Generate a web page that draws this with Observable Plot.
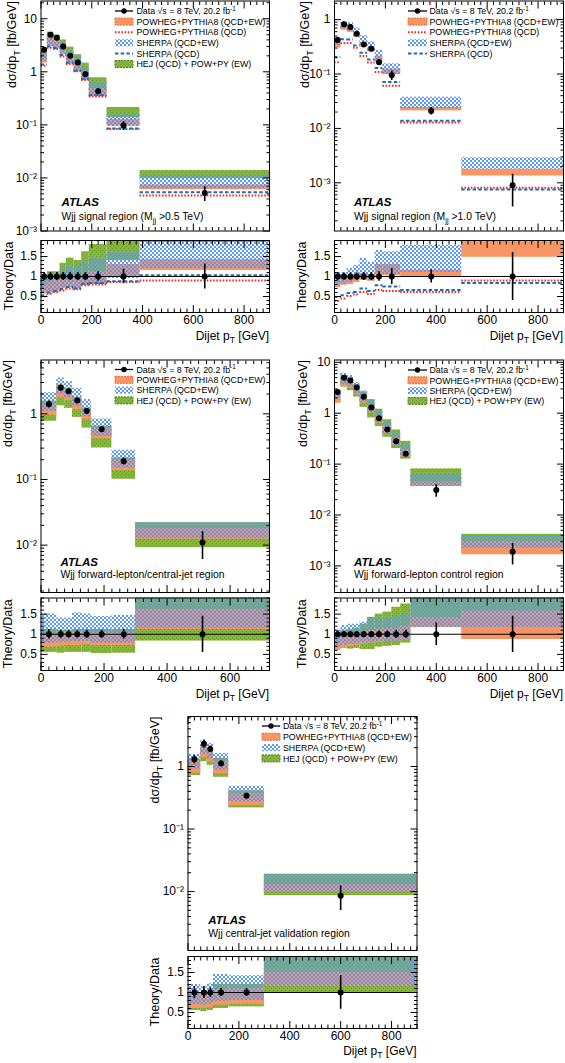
<!DOCTYPE html>
<html><head><meta charset="utf-8">
<script src="https://cdn.jsdelivr.net/npm/d3@7"></script>
<script src="https://cdn.jsdelivr.net/npm/@observablehq/plot@0.6"></script>
<style>
body{margin:0;background:#fff;}
#root{position:relative;width:565px;height:1063px;overflow:hidden;background:#fff;}
</style></head><body>
<svg width="1" height="1" style="position:absolute;left:0;top:0">
 <defs>
  <pattern id="shePat" x="0" y="0" width="4" height="4" patternUnits="userSpaceOnUse">
   <rect x="0" y="0" width="2" height="2" fill="#5a96f6"/>
   <rect x="2" y="2" width="2" height="2" fill="#5a96f6"/>
  </pattern>
  <pattern id="hejPat" x="0" y="0" width="4" height="4" patternUnits="userSpaceOnUse">
   <rect x="0" y="0" width="4" height="4" fill="#86b53c"/>
   <rect x="0" y="0" width="1" height="1" fill="#6a9a2a"/>
   <rect x="2" y="2" width="1" height="1" fill="#6a9a2a"/>
  </pattern>
 </defs>
</svg>
<div id="root"></div>
<script>
// ---------------- DATA (ratios are Theory/Data) ----------------
// Panel 1: Wjj signal region (Mjj > 0.5 TeV)
const p1Edges  = [0, 25, 50, 75, 100, 130, 160, 190, 260, 390, 900];
const p1Data   = [2.6, 5.0, 4.4, 3.0, 2.0, 1.5, 0.9, 0.43, 0.097, 0.0052];
const p1Err    = [0.1, 0.1, 0.1, 0.1, 0.1, 0.1, 0.1, 0.12, 0.18, 0.31];
const p1PowLo  = [0.56, 0.6, 0.63, 0.7, 0.72, 0.7, 0.78, 0.8, 0.98, 1.15];
const p1PowHi  = [0.82, 0.88, 0.9, 0.98, 1.0, 1.0, 1.08, 1.12, 1.3, 1.42];
const p1SheLo  = [0.6, 0.62, 0.65, 0.72, 0.74, 0.7, 0.78, 0.8, 0.95, 1.2];
const p1SheHi  = [0.95, 1.05, 1.08, 1.18, 1.25, 1.28, 1.35, 1.45, 1.6, 2.15];
const p1HejLo  = [0.65, 0.72, 0.75, 0.85, 0.9, 0.85, 0.95, 1.0, 1.4, 1.85];
const p1HejHi  = [0.95, 1.12, 1.12, 1.33, 1.46, 1.4, 1.62, 1.8, 2.2, 2.65];
const p1PowQcd = [0.5, 0.57, 0.61, 0.65, 0.7, 0.68, 0.78, 0.8, 0.86, 0.9];
const p1SheQcd = [0.53, 0.6, 0.64, 0.69, 0.74, 0.7, 0.82, 0.84, 0.88, 1.03];

// Panel 2: Wjj signal region (Mjj > 1.0 TeV)
const p2Edges  = [0, 25, 50, 75, 100, 130, 160, 190, 260, 500, 900];
const p2Data   = [0.42, 0.82, 0.73, 0.55, 0.35, 0.29, 0.165, 0.095, 0.021, 0.0009];
const p2Err    = [0.1, 0.09, 0.09, 0.09, 0.1, 0.1, 0.12, 0.2, 0.16, 0.6];
const p2PowLo  = [0.72, 0.78, 0.8, 0.85, 0.9, 0.88, 1.0, 1.02, 1.0, 1.48];
const p2PowHi  = [0.92, 0.97, 1.0, 1.05, 1.08, 1.05, 1.3, 1.3, 1.16, 1.98];
const p2SheLo  = [0.78, 0.82, 0.85, 0.9, 0.95, 0.9, 1.05, 1.05, 1.1, 1.98];
const p2SheHi  = [1.1, 1.1, 1.2, 1.28, 1.45, 1.35, 1.65, 1.62, 1.78, 3.2];
const p2PowQcd = [0.39, 0.45, 0.51, 0.55, 0.61, 0.56, 0.66, 0.64, 0.61, 0.9];
const p2SheQcd = [0.49, 0.53, 0.59, 0.61, 0.7, 0.64, 0.78, 0.75, 0.66, 0.84];

// Panel 3: Wjj forward-lepton/central-jet region
const p3Edges  = [0, 50, 75, 100, 130, 160, 225, 300, 725];
const p3Data   = [1.4, 2.5, 2.2, 1.6, 1.1, 0.58, 0.19, 0.011];
const p3Err    = [0.12, 0.1, 0.09, 0.09, 0.1, 0.1, 0.12, 0.45];
const p3PowLo  = [0.68, 0.7, 0.72, 0.72, 0.74, 0.72, 0.72, 1.12];
const p3PowHi  = [1.0, 1.02, 1.05, 1.05, 1.05, 1.05, 1.05, 1.62];
const p3SheLo  = [0.78, 0.8, 0.8, 0.82, 0.82, 0.78, 0.78, 1.15];
const p3SheHi  = [1.5, 1.4, 1.4, 1.53, 1.5, 1.44, 1.47, 2.0];
const p3HejLo  = [0.55, 0.53, 0.55, 0.55, 0.55, 0.52, 0.53, 0.83];
const p3HejHi  = [1.12, 1.1, 1.1, 1.12, 1.12, 1.12, 1.12, 2.0];

// Panel 4: Wjj forward-lepton control region
const p4Edges  = [0, 25, 50, 75, 100, 130, 160, 190, 225, 260, 300, 500, 900];
const p4Data   = [2.6, 5.0, 4.4, 3.2, 2.1, 1.3, 0.8, 0.48, 0.28, 0.16, 0.031, 0.0019];
const p4Err    = [0.08, 0.07, 0.07, 0.07, 0.07, 0.07, 0.08, 0.08, 0.1, 0.1, 0.28, 0.45];
const p4PowLo  = [0.6, 0.66, 0.7, 0.72, 0.75, 0.78, 0.8, 0.82, 0.82, 0.85, 1.17, 0.87];
const p4PowHi  = [0.88, 0.95, 1.0, 1.02, 1.05, 1.1, 1.12, 1.15, 1.15, 1.2, 1.42, 1.58];
const p4SheLo  = [0.7, 0.72, 0.75, 0.75, 0.78, 0.8, 0.82, 0.82, 0.8, 0.85, 1.17, 1.17];
const p4SheHi  = [1.1, 1.22, 1.25, 1.25, 1.3, 1.4, 1.4, 1.42, 1.45, 1.5, 2.1, 2.0];
const p4HejLo  = [0.62, 0.65, 0.63, 0.65, 0.62, 0.62, 0.68, 0.7, 0.72, 0.78, 1.17, 1.1];
const p4HejHi  = [1.0, 1.1, 1.12, 1.15, 1.25, 1.42, 1.5, 1.55, 1.67, 1.75, 2.6, 2.2];

// Panel 5: Wjj central-jet validation region
const p5Edges  = [0, 50, 75, 100, 160, 300, 900];
const p5Data   = [1.3, 2.3, 1.9, 1.12, 0.34, 0.0086];
const p5Err    = [0.15, 0.15, 0.12, 0.1, 0.1, 0.42];
const p5PowLo  = [0.6, 0.6, 0.62, 0.68, 0.7, 1.15];
const p5PowHi  = [0.95, 0.95, 0.98, 1.08, 1.1, 1.5];
const p5SheLo  = [0.7, 0.68, 0.7, 0.78, 0.8, 1.15];
const p5SheHi  = [1.2, 1.14, 1.22, 1.45, 1.42, 2.2];
const p5HejLo  = [0.55, 0.52, 0.55, 0.6, 0.64, 1.0];
const p5HejHi  = [1.0, 0.98, 1.0, 1.2, 1.2, 2.2];

// Tick labels
const logTickValues = [1e-3, 1e-2, 1e-1, 1, 10];
const logTickLabels = ["10⁻³", "10⁻²", "10⁻¹", "1", "10"];
const ratioTickValues = [0.5, 1, 1.5];
const ratioTickLabels = ["0.5", "1", "1.5"];
const xTickValuesWide = [0, 200, 400, 600, 800];
const xTickValuesNarrow = [0, 200, 400, 600];

// Legend / text labels
const legendLabels = {
  data: [["Data √s = 8 TeV, 20.2 fb"], ["-1", "sup"]],
  pow: [["POWHEG+PYTHIA8 (QCD+EW)"]],
  powqcd: [["POWHEG+PYTHIA8 (QCD)"]],
  she: [["SHERPA (QCD+EW)"]],
  sheqcd: [["SHERPA (QCD)"]],
  hej: [["HEJ (QCD) + POW+PY (EW)"]]
};
const regionLabels = [
  [["Wjj signal region (M"], ["jj", "sub"], [" >0.5 TeV)"]],
  [["Wjj signal region (M"], ["jj", "sub"], [" >1.0 TeV)"]],
  [["Wjj forward-lepton/central-jet region"]],
  [["Wjj forward-lepton control region"]],
  [["Wjj central-jet validation region"]]
];

// ---------------- LAYOUT ----------------
const FONT = '"Liberation Sans", Arial, Helvetica, sans-serif';
const panels = [
  {edges: p1Edges, data: p1Data, err: p1Err, powLo: p1PowLo, powHi: p1PowHi, sheLo: p1SheLo, sheHi: p1SheHi,
   hejLo: p1HejLo, hejHi: p1HejHi, powQcd: p1PowQcd, sheQcd: p1SheQcd,
   xDomain: [0, 900], xMinorStep: 25, xLabels: xTickValuesWide, yDomain: [1e-3, 21.6],
   frame: {x0: 40.5, x1: 269, m0: 0.5, m1: 230.5, r0: 240, r1: 312},
   legend: {x: 115, y0: 11, dy: 10.6, w: 18, tx: 136.5, keys: ["data", "pow", "powqcd", "she", "sheqcd", "hej"]},
   atlas: {x: 61.5, y: 206, ry: 220}, yTitleX: 15.5, rTitleX: 12.5, xTitleY: 339.5},
  {edges: p2Edges, data: p2Data, err: p2Err, powLo: p2PowLo, powHi: p2PowHi, sheLo: p2SheLo, sheHi: p2SheHi,
   powQcd: p2PowQcd, sheQcd: p2SheQcd,
   xDomain: [0, 900], xMinorStep: 25, xLabels: xTickValuesWide, yDomain: [1.3e-4, 2.2],
   frame: {x0: 334, x1: 563, m0: 0.5, m1: 230.5, r0: 240, r1: 312},
   legend: {x: 408, y0: 11, dy: 10.6, w: 19, tx: 429.5, keys: ["data", "pow", "powqcd", "she", "sheqcd"]},
   atlas: {x: 354, y: 206, ry: 220}, yTitleX: 309, rTitleX: 305.7, xTitleY: 339.5},
  {edges: p3Edges, data: p3Data, err: p3Err, powLo: p3PowLo, powHi: p3PowHi, sheLo: p3SheLo, sheHi: p3SheHi,
   hejLo: p3HejLo, hejHi: p3HejHi,
   xDomain: [0, 725], xMinorStep: 25, xLabels: xTickValuesNarrow, yDomain: [1.9e-3, 6.6],
   frame: {x0: 40.5, x1: 269, m0: 359.5, m1: 592, r0: 597.5, r1: 670},
   legend: {x: 115, y0: 369.5, dy: 10.3, w: 18, tx: 136.5, keys: ["data", "pow", "she", "hej"]},
   atlas: {x: 60.5, y: 565.5, ry: 577.5}, yTitleX: 12.3, rTitleX: 12.3, xTitleY: 697.5},
  {edges: p4Edges, data: p4Data, err: p4Err, powLo: p4PowLo, powHi: p4PowHi, sheLo: p4SheLo, sheHi: p4SheHi,
   hejLo: p4HejLo, hejHi: p4HejHi,
   xDomain: [0, 900], xMinorStep: 25, xLabels: xTickValuesWide, yDomain: [3.0e-4, 11.1],
   frame: {x0: 334, x1: 563, m0: 359.5, m1: 592, r0: 597.5, r1: 670},
   legend: {x: 408, y0: 370, dy: 10.3, w: 19, tx: 429.5, keys: ["data", "pow", "she", "hej"]},
   atlas: {x: 354, y: 565.5, ry: 577.5}, yTitleX: 307.3, rTitleX: 305.7, xTitleY: 697.5},
  {edges: p5Edges, data: p5Data, err: p5Err, powLo: p5PowLo, powHi: p5PowHi, sheLo: p5SheLo, sheHi: p5SheHi,
   hejLo: p5HejLo, hejHi: p5HejHi,
   xDomain: [0, 900], xMinorStep: 25, xLabels: xTickValuesWide, yDomain: [1.14e-3, 6.3],
   frame: {x0: 187.5, x1: 416.5, m0: 716, m1: 950, r0: 956, r1: 1028},
   legend: {x: 262, y0: 726, dy: 10.8, w: 18, tx: 283, keys: ["data", "pow", "she", "hej"]},
   atlas: {x: 208.3, y: 924, ry: 936.7}, yTitleX: 159, rTitleX: 159, xTitleY: 1054.5}
];

const COL = {pow: "#f79664", powEdge: "#ec6a38", powQcd: "#ff2424", sheQcd: "#1c6cb2", hejEdge: "#4d7a1c"};
const root = document.getElementById("root");

function makeBins(p) {
  return p.data.map((v, i) => ({
    x1: p.edges[i], x2: p.edges[i + 1], xc: (p.edges[i] + p.edges[i + 1]) / 2, v, e: p.err[i],
    powLo: p.powLo[i], powHi: p.powHi[i], sheLo: p.sheLo[i], sheHi: p.sheHi[i],
    hejLo: p.hejLo ? p.hejLo[i] : null, hejHi: p.hejHi ? p.hejHi[i] : null,
    powQcd: p.powQcd ? p.powQcd[i] : null, sheQcd: p.sheQcd ? p.sheQcd[i] : null
  }));
}

function modelMarks(bins, p, sc) {
  const m = [];
  if (p.hejLo) m.push(Plot.rect(bins, {x1: "x1", x2: "x2", y1: b => sc(b, b.hejLo), y2: b => sc(b, b.hejHi), fill: "url(#hejPat)", clip: true}));
  m.push(Plot.rect(bins, {x1: "x1", x2: "x2", y1: b => sc(b, b.powLo), y2: b => sc(b, b.powHi), fill: COL.pow, clip: true}));
  m.push(Plot.rect(bins, {x1: "x1", x2: "x2", y1: b => sc(b, b.sheLo), y2: b => sc(b, b.sheHi), fill: "url(#shePat)", clip: true}));
  if (p.powQcd) m.push(Plot.ruleY(bins, {x1: "x1", x2: "x2", y: b => sc(b, b.powQcd), stroke: COL.powQcd, strokeWidth: 2, strokeDasharray: "1.6,1.6", clip: true}));
  if (p.sheQcd) m.push(Plot.ruleY(bins, {x1: "x1", x2: "x2", y: b => sc(b, b.sheQcd), stroke: COL.sheQcd, strokeWidth: 2, strokeDasharray: "3.5,2.2", clip: true}));
  return m;
}

function frameTicks(xMajor, xMinor, yMajor, yMinor) {
  const o = {fill: "none", label: null, strokeWidth: 1};
  const L = 7, S = 3.5;
  return [
    Plot.axisX({...o, anchor: "bottom", ticks: xMajor, tickSize: -L}),
    Plot.axisX({...o, anchor: "bottom", ticks: xMinor, tickSize: -S}),
    Plot.axisX({...o, anchor: "top", ticks: xMajor, tickSize: -L}),
    Plot.axisX({...o, anchor: "top", ticks: xMinor, tickSize: -S}),
    Plot.axisY({...o, anchor: "left", ticks: yMajor, tickSize: -L}),
    Plot.axisY({...o, anchor: "left", ticks: yMinor, tickSize: -S}),
    Plot.axisY({...o, anchor: "right", ticks: yMajor, tickSize: -L}),
    Plot.axisY({...o, anchor: "right", ticks: yMinor, tickSize: -S})
  ];
}

function place(svg, left, top) {
  svg.style.position = "absolute";
  svg.style.left = left + "px";
  svg.style.top = top + "px";
  svg.style.maxWidth = "none";
  root.appendChild(svg);
}

function logTicks(dom) {
  const lo = Math.floor(Math.log10(dom[0])), hi = Math.ceil(Math.log10(dom[1]));
  const major = [], minor = [];
  for (let e = lo; e <= hi; e++) for (let k = 1; k <= 9; k++) {
    const v = +(k * Math.pow(10, e)).toPrecision(6);
    if (v < dom[0] || v > dom[1]) continue;
    (k === 1 ? major : minor).push(v);
  }
  return {major, minor};
}

function logLabel(d) {
  const i = logTickValues.findIndex(v => Math.abs(v - d) / v < 1e-6);
  return i >= 0 ? logTickLabels[i] : "";
}

const style = {background: "transparent", fontFamily: FONT, fontSize: "12px", overflow: "visible", color: "black"};

function renderPanel(p) {
  const f = p.frame;
  const bins = makeBins(p);
  const left = Math.floor(f.x0) - 42;
  const W = Math.ceil(f.x1) + 4 - left;
  const ml = f.x0 - left, mr = W - (f.x1 - left);
  const xMajor = d3.range(0, p.xDomain[1] + 0.1, 200);
  const xMinor = d3.range(0, p.xDomain[1] + 0.1, p.xMinorStep).filter(v => v % 200 !== 0);
  const lt = logTicks(p.yDomain);

  // main panel
  const mTop = Math.floor(f.m0) - 2;
  const mH = Math.ceil(f.m1) + 2 - mTop;
  const main = Plot.plot({
    width: W, height: mH, marginLeft: ml, marginRight: mr, marginTop: f.m0 - mTop, marginBottom: mTop + mH - f.m1,
    x: {domain: p.xDomain}, y: {type: "log", domain: p.yDomain}, style,
    marks: [
      ...modelMarks(bins, p, (b, r) => b.v * r),
      Plot.ruleX(bins, {x: "xc", y1: b => b.v * (1 - b.e), y2: b => b.v * (1 + b.e), stroke: "black", strokeWidth: 1.6, clip: true}),
      Plot.dot(bins, {x: "xc", y: "v", r: 3, fill: "black"}),
      Plot.frame({stroke: "black"}),
      ...frameTicks(xMajor, xMinor, lt.major, lt.minor),
      Plot.axisY({anchor: "left", ticks: lt.major, tickFormat: logLabel, tickSize: 0, tickPadding: 4, label: null, fontSize: 12})
    ]
  });
  place(main, left, mTop);

  // ratio panel
  const rTop = Math.floor(f.r0) - 2;
  const rH = Math.ceil(f.r1) + 24 - rTop;
  const rMinor = d3.range(0.1, 1.91, 0.1).map(v => +v.toFixed(2)).filter(v => !ratioTickValues.includes(v));
  const ratio = Plot.plot({
    width: W, height: rH, marginLeft: ml, marginRight: mr, marginTop: f.r0 - rTop, marginBottom: rTop + rH - f.r1,
    x: {domain: p.xDomain}, y: {domain: [0.1, 1.9]}, style,
    marks: [
      ...modelMarks(bins, p, (b, r) => r),
      Plot.ruleY([1], {stroke: "black", strokeWidth: 1}),
      Plot.ruleX(bins, {x: "xc", y1: b => 1 - b.e, y2: b => 1 + b.e, stroke: "black", strokeWidth: 1.6, clip: true}),
      Plot.dot(bins, {x: "xc", y: () => 1, r: 3, fill: "black"}),
      Plot.frame({stroke: "black"}),
      ...frameTicks(xMajor, xMinor, ratioTickValues, rMinor),
      Plot.axisY({anchor: "left", ticks: ratioTickValues, tickFormat: d => ratioTickLabels[ratioTickValues.indexOf(d)], tickSize: 0, tickPadding: 4, label: null, fontSize: 12}),
      Plot.axisX({anchor: "bottom", ticks: p.xLabels, tickFormat: d => String(d), tickSize: 0, tickPadding: 3, label: null, fontSize: 12})
    ]
  });
  place(ratio, left, rTop);
}

panels.forEach(renderPanel);

// ---------------- TEXT OVERLAY ----------------
const ov = d3.select(root).append("svg").attr("width", 565).attr("height", 1063)
  .style("position", "absolute").style("left", "0px").style("top", "0px").style("font-family", FONT);

function rich(parts, x, y, size, opts = {}) {
  const t = ov.append("text").attr("x", x).attr("y", y).attr("font-size", size).attr("fill", "black");
  if (opts.anchor) t.attr("text-anchor", opts.anchor);
  if (opts.rotate) t.attr("transform", `rotate(${opts.rotate},${x},${y})`);
  if (opts.weight) t.attr("font-weight", opts.weight);
  if (opts.fstyle) t.attr("font-style", opts.fstyle);
  let shift = 0;
  for (const [s, kind] of parts) {
    let target = 0, fs = size;
    if (kind === "sub") { target = size * 0.32; fs = size * 0.72; }
    if (kind === "sup") { target = -size * 0.4; fs = size * 0.72; }
    t.append("tspan").attr("font-size", fs).attr("dy", target - shift).text(s);
    shift = target;
  }
  return t;
}

function legendEntry(key, x, y, w, tx) {
  const h = 7;
  if (key === "data") {
    ov.append("line").attr("x1", x).attr("x2", x + w).attr("y1", y).attr("y2", y).attr("stroke", "black").attr("stroke-width", 1.3);
    ov.append("circle").attr("cx", x + w / 2).attr("cy", y).attr("r", 2.7).attr("fill", "black");
  } else if (key === "pow") {
    ov.append("rect").attr("x", x).attr("y", y - h / 2).attr("width", w).attr("height", h).attr("fill", COL.pow).attr("stroke", COL.powEdge).attr("stroke-width", 1).attr("stroke-dasharray", "2,1");
  } else if (key === "she") {
    ov.append("rect").attr("x", x).attr("y", y - h / 2).attr("width", w).attr("height", h).attr("fill", "url(#shePat)");
  } else if (key === "hej") {
    ov.append("rect").attr("x", x).attr("y", y - h / 2).attr("width", w).attr("height", h).attr("fill", "url(#hejPat)").attr("stroke", COL.hejEdge).attr("stroke-width", 1).attr("stroke-dasharray", "2,1");
  } else if (key === "powqcd") {
    ov.append("line").attr("x1", x).attr("x2", x + w).attr("y1", y).attr("y2", y).attr("stroke", COL.powQcd).attr("stroke-width", 2).attr("stroke-dasharray", "1.6,1.6");
  } else if (key === "sheqcd") {
    ov.append("line").attr("x1", x).attr("x2", x + w).attr("y1", y).attr("y2", y).attr("stroke", COL.sheQcd).attr("stroke-width", 2).attr("stroke-dasharray", "3.5,2.2");
  }
  rich(legendLabels[key], tx, y + 3.2, 8.8);
}

panels.forEach((p, i) => {
  const f = p.frame, L = p.legend;
  L.keys.forEach((k, j) => legendEntry(k, L.x, L.y0 + j * L.dy, L.w, L.tx));
  rich([["ATLAS"]], p.atlas.x, p.atlas.y, 11.5, {weight: "bold", fstyle: "italic"});
  rich(regionLabels[i], p.atlas.x, p.atlas.ry, 10.4);
  rich([["dσ/dp"], ["T", "sub"], [" [fb/GeV]"]], p.yTitleX, f.m0 + 0.5, 12.5, {anchor: "end", rotate: -90});
  rich([["Theory/Data"]], p.rTitleX, (f.r0 + f.r1) / 2, 12.5, {anchor: "middle", rotate: -90});
  rich([["Dijet p"], ["T", "sub"], [" [GeV]"]], f.x1, p.xTitleY, 12, {anchor: "end"});
});
</script>
</body></html>
